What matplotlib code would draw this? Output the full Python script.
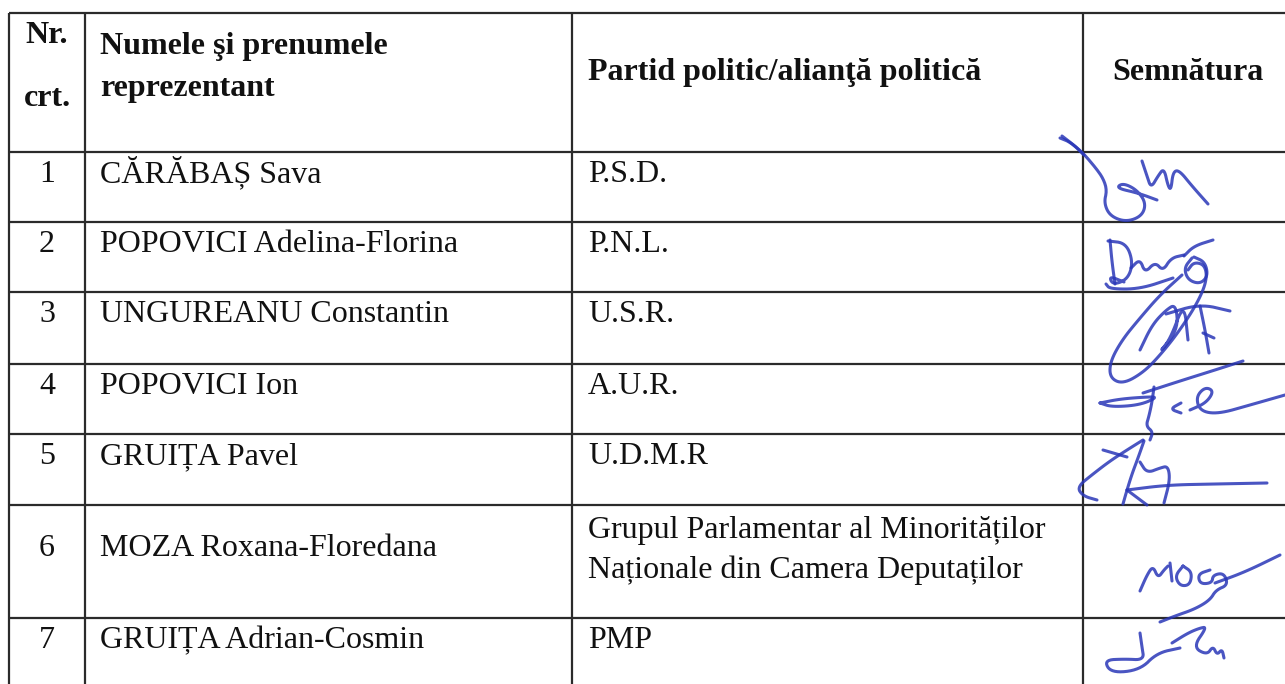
import matplotlib
matplotlib.use("Agg")
import matplotlib.pyplot as plt
import numpy as np

plt.rcParams["font.family"] = ["Liberation Serif", "DejaVu Serif"]

# table content
HEADER_NR = ["Nr.", "crt."]
HEADER_NAME = ["Numele şi prenumele", "reprezentant"]
HEADER_PARTY = "Partid politic/alianţă politică"
HEADER_SIGN = "Semnătura"

ROW_NR = ["1", "2", "3", "4", "5", "6", "7"]
ROW_NAMES = [
    "CĂRĂBAȘ Sava",
    "POPOVICI Adelina-Florina",
    "UNGUREANU Constantin",
    "POPOVICI Ion",
    "GRUIȚA Pavel",
    "MOZA Roxana-Floredana",
    "GRUIȚA Adrian-Cosmin",
]
ROW_PARTIES = [
    ["P.S.D."],
    ["P.N.L."],
    ["U.S.R."],
    ["A.U.R."],
    ["U.D.M.R"],
    ["Grupul Parlamentar al Minorităților", "Naționale din Camera Deputaților"],
    ["PMP"],
]

# handwritten signatures, pixel coords of each pen stroke
SIGNATURES = [
    [  # 1
        [(1060, 138), (1070, 142), (1083, 153), (1095, 167), (1103, 178), (1107, 190),
         (1104, 203), (1110, 216), (1126, 222), (1142, 216), (1146, 203), (1137, 190),
         (1123, 183), (1116, 188), (1138, 193), (1157, 200)],
        [(1062, 136), (1075, 146), (1084, 155)],
        [(1142, 161), (1147, 176), (1151, 188), (1158, 176), (1164, 168), (1168, 186),
         (1171, 190), (1173, 172), (1179, 170), (1192, 186), (1208, 204)],
    ],
    [  # 2
        [(1110, 240), (1112, 262), (1115, 284)],
        [(1108, 241), (1126, 243), (1133, 262), (1128, 279), (1113, 285), (1109, 276),
         (1124, 282)],
        [(1106, 284), (1110, 289), (1140, 289), (1173, 278)],
        [(1131, 268), (1140, 259), (1145, 273), (1155, 262), (1163, 271), (1171, 258),
         (1184, 255)],
        [(1184, 256), (1194, 246), (1213, 240)],
        [(1192, 258), (1184, 268), (1188, 280), (1200, 284), (1208, 276), (1205, 262),
         (1194, 257)],
    ],
    [  # 3
        [(1182, 275), (1160, 295), (1140, 318), (1122, 340), (1110, 362), (1110, 378),
         (1123, 384), (1144, 372), (1162, 353), (1180, 330), (1198, 302), (1207, 280),
         (1205, 265), (1194, 262), (1188, 270)],
        [(1140, 350), (1152, 325), (1166, 310), (1176, 304), (1178, 330), (1158, 354),
         (1170, 340), (1184, 302), (1188, 340)],
        [(1166, 314), (1200, 304), (1230, 311)],
        [(1200, 306), (1205, 330), (1209, 353)],
        [(1203, 333), (1214, 338)],
    ],
    [  # 4
        [(1143, 393), (1180, 381), (1215, 370), (1243, 361)],
        [(1100, 403), (1120, 399), (1146, 397), (1158, 397), (1140, 405), (1112, 407),
         (1100, 403)],
        [(1154, 387), (1152, 402), (1149, 416), (1146, 426), (1153, 432), (1150, 440)],
        [(1181, 403), (1170, 409), (1181, 413)],
        [(1190, 410), (1206, 403), (1214, 391), (1205, 387), (1196, 397), (1200, 411),
         (1218, 414), (1250, 405), (1285, 395)],
    ],
    [  # 5
        [(1143, 440), (1127, 450), (1110, 461), (1093, 474), (1077, 487), (1083, 496),
         (1097, 500)],
        [(1103, 450), (1127, 457)],
        [(1144, 441), (1138, 458), (1132, 474), (1127, 490), (1123, 504)],
        [(1140, 462), (1147, 473), (1160, 468), (1168, 466), (1170, 480), (1164, 503)],
        [(1127, 490), (1147, 505)],
        [(1127, 490), (1167, 485), (1215, 484), (1267, 483)],
    ],
    [  # 6
        [(1140, 591), (1147, 575), (1153, 566), (1158, 578), (1164, 570), (1168, 566)],
        [(1170, 563), (1172, 581)],
        [(1183, 566), (1192, 572), (1190, 585), (1180, 586), (1175, 576), (1183, 566)],
        [(1210, 570), (1198, 574), (1200, 584), (1212, 583), (1213, 575), (1224, 573),
         (1228, 585), (1216, 590), (1210, 600), (1195, 609), (1175, 616), (1160, 622)],
        [(1215, 583), (1245, 572), (1280, 555)],
    ],
    [  # 7
        [(1140, 633), (1142, 647), (1144, 660), (1125, 659), (1104, 660), (1111, 673),
         (1140, 670), (1157, 653), (1180, 648)],
        [(1172, 643), (1188, 633), (1200, 628), (1207, 627), (1193, 647), (1207, 655),
         (1213, 646), (1217, 655), (1222, 649), (1224, 658)],
    ],
]

FIG_W, FIG_H = 1285, 684
COL_X = [9, 85, 572, 1083, 1300]
ROW_Y = [13, 152, 222, 292, 364, 434, 505, 618, 686]
LINE_COLOR = "#2b2b2b"
TEXT_COLOR = "#111111"
INK = "#2a37b8"
FS = 23


def smooth_stroke(points, passes=3):
    # chaikin corner cutting so the pen strokes look less jagged
    pts = np.asarray(points, dtype=float)
    for _ in range(passes):
        if len(pts) < 3:
            break
        q = 0.75 * pts[:-1] + 0.25 * pts[1:]
        r = 0.25 * pts[:-1] + 0.75 * pts[1:]
        mid = np.empty((2 * len(q), 2))
        mid[0::2] = q
        mid[1::2] = r
        pts = np.vstack([pts[:1], mid, pts[-1:]])
    return pts


fig = plt.figure(figsize=(FIG_W / 100, FIG_H / 100), dpi=100)
ax = fig.add_axes([0, 0, 1, 1])
ax.set_xlim(0, FIG_W)
ax.set_ylim(FIG_H, 0)
ax.axis("off")

# grid
for y in ROW_Y:
    ax.plot([COL_X[0], COL_X[-1]], [y, y], color=LINE_COLOR, lw=1.6, solid_capstyle="butt")
for x in COL_X:
    ax.plot([x, x], [ROW_Y[0], ROW_Y[-1]], color=LINE_COLOR, lw=1.6, solid_capstyle="butt")

# header
nr_x = (COL_X[0] + COL_X[1]) / 2
bold = dict(fontsize=FS, fontweight="bold", color=TEXT_COLOR, va="baseline")
ax.text(nr_x, 43, HEADER_NR[0], ha="center", **bold)
ax.text(nr_x, 106, HEADER_NR[1], ha="center", **bold)
ax.text(COL_X[1] + 15, 54, HEADER_NAME[0], ha="left", **bold)
ax.text(COL_X[1] + 15, 96, HEADER_NAME[1], ha="left", **bold)
ax.text(COL_X[2] + 16, 80, HEADER_PARTY, ha="left", **bold)
ax.text(1188, 80, HEADER_SIGN, ha="center", **bold)

# body rows
plain = dict(fontsize=FS, color=TEXT_COLOR, va="baseline")
for i, (nr, name, party) in enumerate(zip(ROW_NR, ROW_NAMES, ROW_PARTIES)):
    top = ROW_Y[i + 1]
    if len(party) > 1:
        base = top + 51
        party_base = [top + 33, top + 73]
    else:
        base = top + 30
        party_base = [base]
    ax.text(nr_x, base, nr, ha="center", **plain)
    ax.text(COL_X[1] + 15, base, name, ha="left", **plain)
    for line, yb in zip(party, party_base):
        ax.text(COL_X[2] + 16, yb, line, ha="left", **plain)

# signatures
for sig in SIGNATURES:
    for stroke in sig:
        pts = smooth_stroke(stroke)
        ax.plot(pts[:, 0], pts[:, 1], color=INK, lw=2.2, alpha=0.85,
                solid_joinstyle="round", solid_capstyle="round")

fig.savefig("out.png", dpi=100, facecolor="white")
